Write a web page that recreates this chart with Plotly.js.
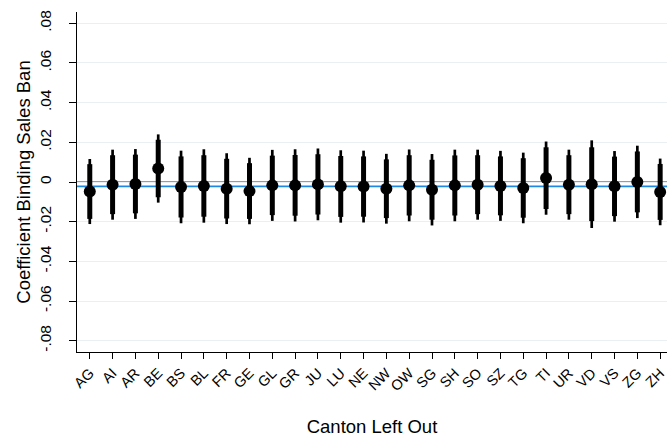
<!DOCTYPE html>
<html>
<head>
<meta charset="utf-8">
<script src="https://cdn.plot.ly/plotly-3.0.1.min.js"></script>
<style>html,body{margin:0;padding:0;background:#fff;}#chart{width:667px;height:437px;}</style>
</head>
<body>
<div id="chart"></div>
<script>
const cantons = ["AG","AI","AR","BE","BS","BL","FR","GE","GL","GR","JU","LU","NE","NW","OW","SG","SH","SO","SZ","TG","TI","UR","VD","VS","ZG","ZH"];
const coef    = [-0.0048,-0.0014,-0.0010,0.0068,-0.0025,-0.0020,-0.0034,-0.0046,-0.0017,-0.0017,-0.0012,-0.0022,-0.0023,-0.0034,-0.0017,-0.0039,-0.0017,-0.0014,-0.0020,-0.0030,0.0020,-0.0014,-0.0011,-0.0022,0.0000,-0.0050];
const lo95    = [-0.0212,-0.0190,-0.0186,-0.0104,-0.0208,-0.0205,-0.0212,-0.0213,-0.0196,-0.0199,-0.0193,-0.0205,-0.0204,-0.0210,-0.0198,-0.0219,-0.0198,-0.0190,-0.0196,-0.0208,-0.0165,-0.0190,-0.0232,-0.0200,-0.0182,-0.0218];
const hi95    = [0.0116,0.0163,0.0166,0.0240,0.0158,0.0165,0.0145,0.0122,0.0162,0.0165,0.0169,0.0160,0.0158,0.0142,0.0164,0.0141,0.0163,0.0163,0.0157,0.0148,0.0204,0.0163,0.0210,0.0156,0.0183,0.0118];
const lo90    = [-0.0186,-0.0162,-0.0158,-0.0077,-0.0179,-0.0175,-0.0184,-0.0186,-0.0167,-0.0170,-0.0164,-0.0176,-0.0175,-0.0182,-0.0169,-0.0190,-0.0169,-0.0162,-0.0168,-0.0180,-0.0136,-0.0162,-0.0197,-0.0172,-0.0153,-0.0191];
const hi90    = [0.0090,0.0135,0.0138,0.0213,0.0129,0.0135,0.0117,0.0095,0.0133,0.0136,0.0140,0.0131,0.0129,0.0114,0.0135,0.0112,0.0134,0.0135,0.0129,0.0120,0.0175,0.0135,0.0175,0.0128,0.0154,0.0091];
const refLine = -0.0022;
const yTickVals = [-0.08,-0.06,-0.04,-0.02,0,0.02,0.04,0.06,0.08];
const yTickText = ["-.08","-.06","-.04","-.02","0",".02",".04",".06",".08"];

const xIdx = cantons.map((c,i)=>i);
const thin = {
  x: xIdx, y: coef, type: 'scatter', mode: 'markers',
  marker: {size: 0.1, color: 'rgba(0,0,0,0)'},
  error_y: {type: 'data', symmetric: false,
    array: hi95.map((v,i)=>v-coef[i]), arrayminus: coef.map((v,i)=>v-lo95[i]),
    color: '#000', thickness: 2.7, width: 0},
  hoverinfo: 'skip', showlegend: false
};
const thick = {
  x: xIdx, y: coef, type: 'scatter', mode: 'markers',
  marker: {size: 12, color: '#000', line: {width: 0}},
  error_y: {type: 'data', symmetric: false,
    array: hi90.map((v,i)=>v-coef[i]), arrayminus: coef.map((v,i)=>v-lo90[i]),
    color: '#000', thickness: 5, width: 0},
  showlegend: false
};

const layout = {
  width: 667, height: 437,
  margin: {l: 77, r: 0, t: 12, b: 85},
  paper_bgcolor: '#fff', plot_bgcolor: '#fff',
  font: {family: 'Liberation Sans, Arial, sans-serif', color: '#000'},
  xaxis: {
    range: [-0.56, 25.3], tickmode: 'array', tickvals: xIdx, ticktext: cantons,
    tickangle: -45, tickfont: {size: 14.5}, ticks: 'outside', ticklen: 6, tickcolor: '#000',
    ticklabeloverflow: 'allow',
    showgrid: false, zeroline: false, showline: true, linecolor: '#000', linewidth: 1,
    title: {text: 'Canton Left Out', font: {size: 18.5}, standoff: 28}
  },
  yaxis: {
    range: [-0.0857, 0.0857], tickmode: 'array', tickvals: yTickVals, ticktext: yTickText,
    tickangle: -90, tickfont: {size: 15.5}, ticks: 'outside', ticklen: 7, tickcolor: '#000',
    ticklabelstandoff: 12, ticklabeloverflow: 'allow',
    showgrid: true, gridcolor: '#e9eff2', gridwidth: 1,
    zeroline: false, showline: true, linecolor: '#000', linewidth: 1,
    title: {text: 'Coefficient Binding Sales Ban', font: {size: 18.5}, standoff: 1}
  },
  shapes: [
    {type: 'line', xref: 'paper', x0: 0, x1: 1, yref: 'y', y0: 0, y1: 0, layer: 'below',
     line: {color: '#7a7a7a', width: 1.6}},
    {type: 'line', xref: 'paper', x0: 0, x1: 1, yref: 'y', y0: refLine, y1: refLine, layer: 'below',
     line: {color: '#1e88e5', width: 1.6}}
  ]
};
Plotly.newPlot('chart', [thin, thick], layout, {displayModeBar: false, staticPlot: true});
</script>
</body>
</html>
